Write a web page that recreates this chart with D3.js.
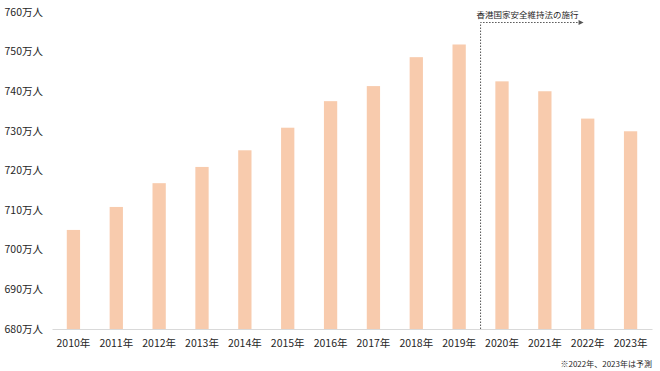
<!DOCTYPE html>
<html>
<head>
<meta charset="utf-8">
<script src="https://cdn.jsdelivr.net/npm/d3@7"></script>
<style>
  body { margin: 0; background: #fff; }
  text { font-family: "Noto Sans CJK JP", "Noto Sans", sans-serif; fill: #262626; }
</style>
</head>
<body>
<script>
// Hong Kong population (10k persons)
const years = ["2010年", "2011年", "2012年", "2013年", "2014年", "2015年", "2016年",
               "2017年", "2018年", "2019年", "2020年", "2021年", "2022年", "2023年"];
const population = [705.0, 710.8, 716.8, 720.9, 725.1, 730.8, 737.5,
                     741.3, 748.6, 751.8, 742.5, 740.0, 733.1, 729.9];
const yTicks = [680, 690, 700, 710, 720, 730, 740, 750, 760];
const markerYear = "2020年";
const markerLabel = "香港国家安全維持法の施行";
const footnote = "※2022年、2023年は予測";

const width = 660;
const height = 371;
const margin = { top: 12, right: 8, bottom: 42, left: 52 };

const svg = d3.select("body").append("svg")
    .attr("width", width)
    .attr("height", height);

const x = d3.scaleBand()
    .domain(years)
    .range([margin.left, width - margin.right])
    .paddingInner(0.69)
    .paddingOuter(0.345);

const y = d3.scaleLinear()
    .domain([680, 760])
    .range([height - margin.bottom, margin.top]);

// y labels (no axis line)
svg.append("g")
    .selectAll("text")
    .data(yTicks)
    .join("text")
    .attr("x", 43)
    .attr("y", d => y(d))
    .attr("dy", "0.35em")
    .attr("text-anchor", "end")
    .style("font-size", "10.5px")
    .text(d => d + "万人");

// bars
svg.append("g")
    .selectAll("rect")
    .data(population)
    .join("rect")
    .attr("x", (d, i) => x(years[i]))
    .attr("y", d => y(d))
    .attr("width", x.bandwidth())
    .attr("height", d => y(680) - y(d))
    .attr("fill", "#F8CBAD");

// x axis
const xAxis = svg.append("g")
    .attr("transform", `translate(0,${y(680)})`)
    .call(d3.axisBottom(x).tickSize(0).tickPadding(11));
xAxis.select(".domain").attr("stroke", "#d9d9d9");
xAxis.selectAll("text")
    .style("font-size", "10.5px")
    .style("font-family", "\"Noto Sans CJK JP\", sans-serif")
    .attr("fill", "#262626");

// marker: dotted line between 2019 and 2020
const step = x.step();
const mx = x(markerYear) - (step - x.bandwidth()) / 2;
const my = 22.5;

svg.append("path")
    .attr("d", `M${mx},${y(680)}V${my}H${mx + 98}`)
    .attr("fill", "none")
    .attr("stroke", "#555")
    .attr("stroke-width", 1)
    .attr("stroke-dasharray", "1.5,1.5");

svg.append("path")
    .attr("d", `M${mx + 98},${my - 2.5}L${mx + 103},${my}L${mx + 98},${my + 2.5}Z`)
    .attr("fill", "#555");

svg.append("text")
    .attr("x", mx - 4)
    .attr("y", 15)
    .attr("dy", "0.35em")
    .style("font-size", "8.5px")
    .text(markerLabel);

svg.append("text")
    .attr("x", 652)
    .attr("y", 364)
    .attr("dy", "0.35em")
    .attr("text-anchor", "end")
    .style("font-size", "8px")
    .text(footnote);
</script>
</body>
</html>
